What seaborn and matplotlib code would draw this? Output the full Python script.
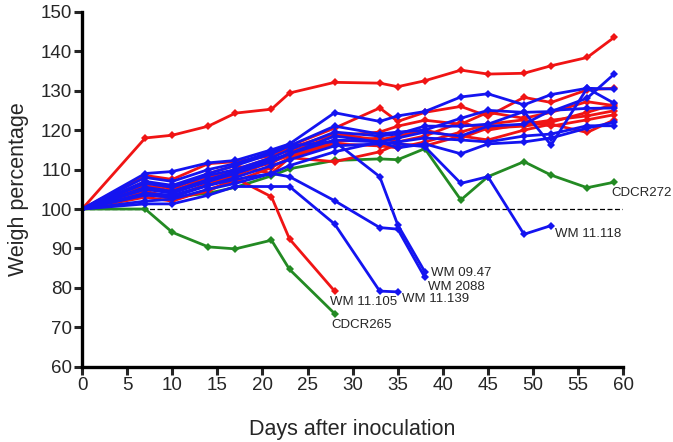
import numpy as np
import pandas as pd
import matplotlib
matplotlib.use("Agg")
import matplotlib.pyplot as plt
import seaborn as sns

days = [0, 7, 10, 14, 17, 21, 23, 28, 33, 35, 38, 42, 45, 49, 52, 56, 59]

# red strains
r1 = [100, 118.0, 118.7, 121.0, 124.3, 125.3, 129.4, 132.1, 131.9, 131.0, 132.5, 135.2, 134.2, 134.4, 136.3, 138.4, 143.5]
r2 = [100, 108.5, 107.5, 111.5, 112.0, 113.5, 116.0, 120.5, 125.6, 122.2, 124.5, 126.0, 123.5, 128.3, 127.0, 130.2, 130.6]
r3 = [100, 106.0, 104.5, 108.0, 110.0, 111.5, 114.5, 118.5, 119.5, 121.0, 122.5, 121.5, 124.5, 123.0, 124.5, 127.2, 126.2]
r4 = [100, 104.5, 103.0, 106.5, 108.5, 112.0, 113.5, 117.0, 118.0, 117.0, 118.5, 122.0, 120.0, 121.5, 122.5, 123.6, 124.9]
r5 = [100, 103.0, 102.0, 105.0, 107.0, 110.5, 113.0, 116.5, 116.0, 115.5, 117.0, 119.5, 121.5, 122.6, 121.0, 122.6, 123.9]
r6 = [100, 107.0, 105.0, 109.0, 111.0, 109.0, 113.0, 112.0, 114.5, 116.5, 116.0, 118.5, 117.5, 120.0, 121.5, 119.4, 122.6]
r7 = [100, 105.5, 106.0, 107.5, 110.0, 113.0, 115.5, 119.0, 117.5, 118.5, 120.0, 118.0, 120.5, 121.0, 122.0, 124.5, 126.5]
wm11105 = [100, 104.0, 102.5, 104.5, 107.8, 103.1, 92.4, 79.2]

# blue strains
b1 = [100, 109.0, 109.5, 111.7, 112.3, 115.0, 116.5, 124.4, 122.2, 123.6, 124.7, 128.4, 129.2, 126.4, 129.0, 130.6, 130.4]
b2 = [100, 108.0, 107.0, 110.0, 111.5, 114.5, 116.0, 121.0, 119.0, 119.5, 120.0, 123.0, 125.0, 124.5, 124.7, 128.1, 134.2]
b3 = [100, 106.5, 105.5, 108.5, 110.0, 113.0, 115.0, 119.5, 118.5, 119.0, 121.0, 121.0, 121.5, 124.7, 116.2, 130.6, 126.8]
b4 = [100, 105.0, 104.0, 107.0, 109.0, 112.0, 114.0, 117.5, 117.0, 118.0, 119.5, 118.5, 121.0, 121.5, 125.0, 125.5, 125.6]
b5 = [100, 103.5, 103.0, 106.0, 108.0, 111.0, 112.5, 116.0, 116.5, 117.0, 118.0, 117.5, 117.0, 118.5, 119.0, 121.1, 121.1]
b6 = [100, 102.0, 102.5, 105.0, 106.5, 109.0, 111.0, 114.5, 117.0, 115.5, 116.5, 114.0, 116.5, 117.0, 118.0, 120.5, 122.0]
wm0947 = [100, 107.0, 106.0, 109.0, 111.0, 114.0, 116.0, 117.1, 108.2, 96.0, 84.1]
wm2088 = [100, 104.0, 103.5, 106.0, 107.5, 109.0, 108.2, 102.1, 95.3, 94.9, 82.7]
wm11139 = [100, 101.3, 101.3, 103.5, 105.7, 105.7, 105.7, 96.2, 79.2, 79.0]
wm11118 = [100, 105.5, 104.5, 107.5, 109.5, 112.5, 114.0, 118.5, 117.0, 116.5, 115.8, 106.5, 108.2, 93.6, 95.8]

# green strains
cdcr265 = [100, 100.0, 94.1, 90.4, 89.9, 92.1, 84.7, 73.5]
cdcr272 = [100, 104.0, 103.0, 104.0, 105.5, 108.4, 110.2, 112.3, 112.7, 112.5, 115.3, 102.3, 108.2, 112.0, 108.6, 105.4, 106.8]

series = {
    "red": {"r1": r1, "r2": r2, "r3": r3, "r4": r4, "r5": r5, "r6": r6, "r7": r7, "WM 11.105": wm11105},
    "blue": {"b1": b1, "b2": b2, "b3": b3, "b4": b4, "b5": b5, "b6": b6,
             "WM 09.47": wm0947, "WM 2088": wm2088, "WM 11.139": wm11139, "WM 11.118": wm11118},
    "green": {"CDCR265": cdcr265, "CDCR272": cdcr272},
}

rows = []
for group, strains in series.items():
    for name, vals in strains.items():
        for d, v in zip(days, vals):
            rows.append((group, name, d, v))
df = pd.DataFrame(rows, columns=["group", "strain", "day", "weight"])

sns.set_style("white")
plt.rcParams['font.family'] = ['Liberation Sans', 'DejaVu Sans']

fig = plt.figure(figsize=(6.73, 4.42), dpi=100)
ax = fig.add_axes([0.122, 0.170, 0.804, 0.8035])

palette = {"red": "#f01414", "blue": "#1414f0", "green": "#238a23"}
for group in ["green", "red", "blue"]:
    sub = df[df["group"] == group]
    sns.lineplot(data=sub, x="day", y="weight", units="strain", estimator=None,
                 color=palette[group], marker="D", markersize=3.8, markeredgewidth=0,
                 linewidth=2.0, ax=ax, legend=False, sort=False)

ax.axhline(100, xmin=0, xmax=1, color="black", linestyle=(0, (4, 2)), linewidth=0.9, zorder=1)

labels = [
    ("WM 09.47", 38.7, 83.8),
    ("WM 2088", 38.4, 80.3),
    ("WM 11.139", 35.5, 77.1),
    ("WM 11.105", 27.5, 76.5),
    ("CDCR265", 27.6, 70.7),
    ("CDCR272", 58.7, 104.0),
    ("WM 11.118", 52.4, 93.6),
]
for txt, x, y in labels:
    ax.text(x, y, txt, fontsize=9.5, va="center", ha="left")

ax.set_xlim(0, 60)
ax.set_ylim(60, 150)
ax.set_xticks(np.arange(0, 61, 5))
ax.set_yticks(np.arange(60, 151, 10))
ax.set_xlabel("Days after inoculation", fontsize=15.5, labelpad=18)
ax.set_ylabel("Weigh percentage", fontsize=15.5, labelpad=8)
ax.tick_params(axis="both", labelsize=13.5, width=2.2, length=6, direction="out", pad=1.5)
ax.tick_params(axis="x", bottom=True)
ax.tick_params(axis="y", left=True)
sns.despine(ax=ax)
for s in ["left", "bottom"]:
    ax.spines[s].set_linewidth(2.4)
    ax.spines[s].set_color("black")

fig.savefig("out.png", dpi=100)
